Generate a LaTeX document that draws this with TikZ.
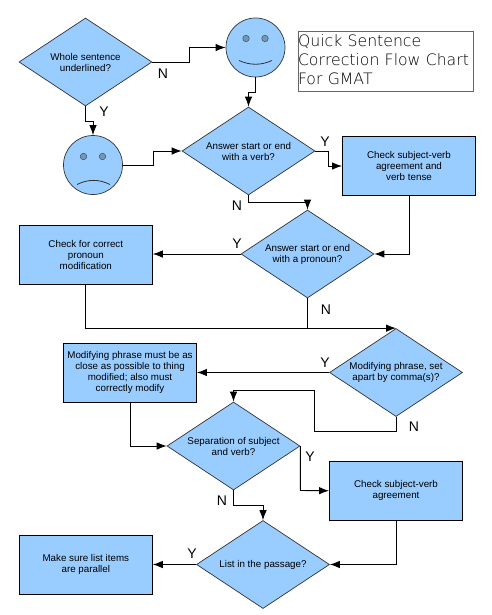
\documentclass[tikz,border=0pt]{standalone}
\usepackage{fontspec}
\setmainfont{Liberation Sans}
\newfontfamily\titlefont{DejaVu Sans ExtraLight}
\usetikzlibrary{shapes.geometric,arrows.meta}
\definecolor{fillblue}{HTML}{99CCFF}
\definecolor{eyeblue}{HTML}{6F98BF}
\tikzset{
  dia/.style={diamond,draw=black!80,line width=0.7pt,fill=fillblue,inner sep=0pt,aspect=1.5,minimum width=133pt,minimum height=88pt,align=center,font=\fontsize{9.8}{11}\selectfont},
  bx/.style={rectangle,draw=black,line width=0.9pt,fill=fillblue,inner sep=0pt,minimum width=133pt,minimum height=58.5pt,align=center,font=\fontsize{9.8}{11}\selectfont},
  face/.style={circle,draw=black!80,line width=0.7pt,fill=fillblue,inner sep=0pt,minimum size=59pt},
  eye/.style={circle,draw=black!70,line width=0.5pt,fill=eyeblue,inner sep=0pt,minimum size=6.5pt},
  arr/.style={draw=black,line width=0.9pt,-{Latex[length=10pt,width=7.5pt]}},
  plain/.style={draw=black,line width=0.9pt},
  lab/.style={font=\fontsize{14}{14}\selectfont,inner sep=0pt},
  titleframe/.style={rectangle,draw=black!60,line width=1pt,fill=white,inner sep=0pt,minimum width=175pt,minimum height=60pt},
  titletext/.style={inner sep=0pt,align=left,text width=175pt,font=\titlefont\fontsize{15.7}{19}\selectfont},
}
\begin{document}
\begin{tikzpicture}[x=1pt,y=-1pt]
\useasboundingbox (0,0) rectangle (492,615);
\fill[white] (0,0) rectangle (492,615);
\node[dia] (d1) at (85.5,62) {Whole sentence\\underlined?};
\node[face] (happy) at (255.5,47.5) {};
\node[face] (sad) at (93,165) {};
\node[eye] (he1) at (246,38.5) {};
\node[eye] (he2) at (265,38.5) {};
\node[eye] (se1) at (83.5,156.5) {};
\node[eye] (se2) at (102.5,156.5) {};
\draw[line width=0.8pt,black!80] (239,60.5) .. controls (250,65.5) and (261,65.5) .. (272,60.5);
\draw[line width=0.8pt,black!80] (77,184.5) .. controls (88,179) and (99,179) .. (110,184.5);
\node[titleframe] (title) at (385.5,62) {};
\node[titletext,yshift=2pt] (titlelabel) at (title.center) {Quick Sentence\\Correction Flow Chart\\For GMAT};
\node[dia] (d2) at (248.5,151) {Answer start or end\\with a verb?};
\node[bx] (b1) at (409,166) {Check subject-verb\\agreement and\\verb tense};
\node[dia] (d3) at (307.5,254) {Answer start or end\\with a pronoun?};
\node[bx] (b2) at (85.8,254.75) {Check for correct\\pronoun\\modification};
\node[dia] (d4) at (396,372.5) {Modifying phrase, set\\apart by comma(s)?};
\node[bx] (b3) at (130,372.75) {Modifying phrase must be as\\close as possible to thing\\modified; also must\\correctly modify};
\node[dia] (d5) at (233.5,446) {Separation of subject\\and verb?};
\node[bx] (b4) at (396,490.75) {Check subject-verb\\agreement};
\node[dia] (d6) at (263,564.5) {List in the passage?};
\node[bx] (b5) at (85.8,564.75) {Make sure list items\\are parallel};
\draw[arr] (d1.east) -- ++(37.5,0) |- (happy.west);
\draw[arr] (happy.south) -- ++(0,15) -| (d2.north);
\draw[arr] (d1.south) -- ++(0,15) -| (sad.north);
\draw[arr] (sad.east) -- ++(30.5,0) |- (d2.west);
\draw[arr] (d2.east) -- ++(13.5,0) |- (b1.west);
\draw[arr] (d2.south) -- ++(0,7) -| (d3.north);
\draw[arr] (b1.south) |- (d3.east);
\draw[arr] (d3.west) -- (b2.east |- d3.west);
\draw[arr] (b2.south) |- (d4.north);
\draw[plain] (d3.south) -- ++(0,30);
\draw[arr] (d4.west) -- (b3.east |- d4.west);
\draw[arr] (d4.south) -- ++(0,14.5) -- ++(-81.5,0) -- ++(0,-41) -| (d5.north);
\draw[arr] (b3.south) |- (d5.west);
\draw[arr] (d5.east) -- ++(0,44.5) -- (b4.west);
\draw[arr] (d5.south) -- ++(0,15) -| (d6.north);
\draw[arr] (b4.south) |- (d6.east);
\draw[arr] (d6.west) -- (b5.east |- d6.west);
\node[lab] (n1) at (163,74) {N};
\node[lab] (y1) at (104,112) {Y};
\node[lab] (y2) at (325,142) {Y};
\node[lab] (n2) at (237,206) {N};
\node[lab] (y3) at (237,244) {Y};
\node[lab] (n3) at (326,310) {N};
\node[lab] (y4) at (325,362.5) {Y};
\node[lab] (n4) at (414,427) {N};
\node[lab] (y5) at (310,457) {Y};
\node[lab] (n5) at (222,501) {N};
\node[lab] (y6) at (192,554) {Y};
\end{tikzpicture}
\end{document}
